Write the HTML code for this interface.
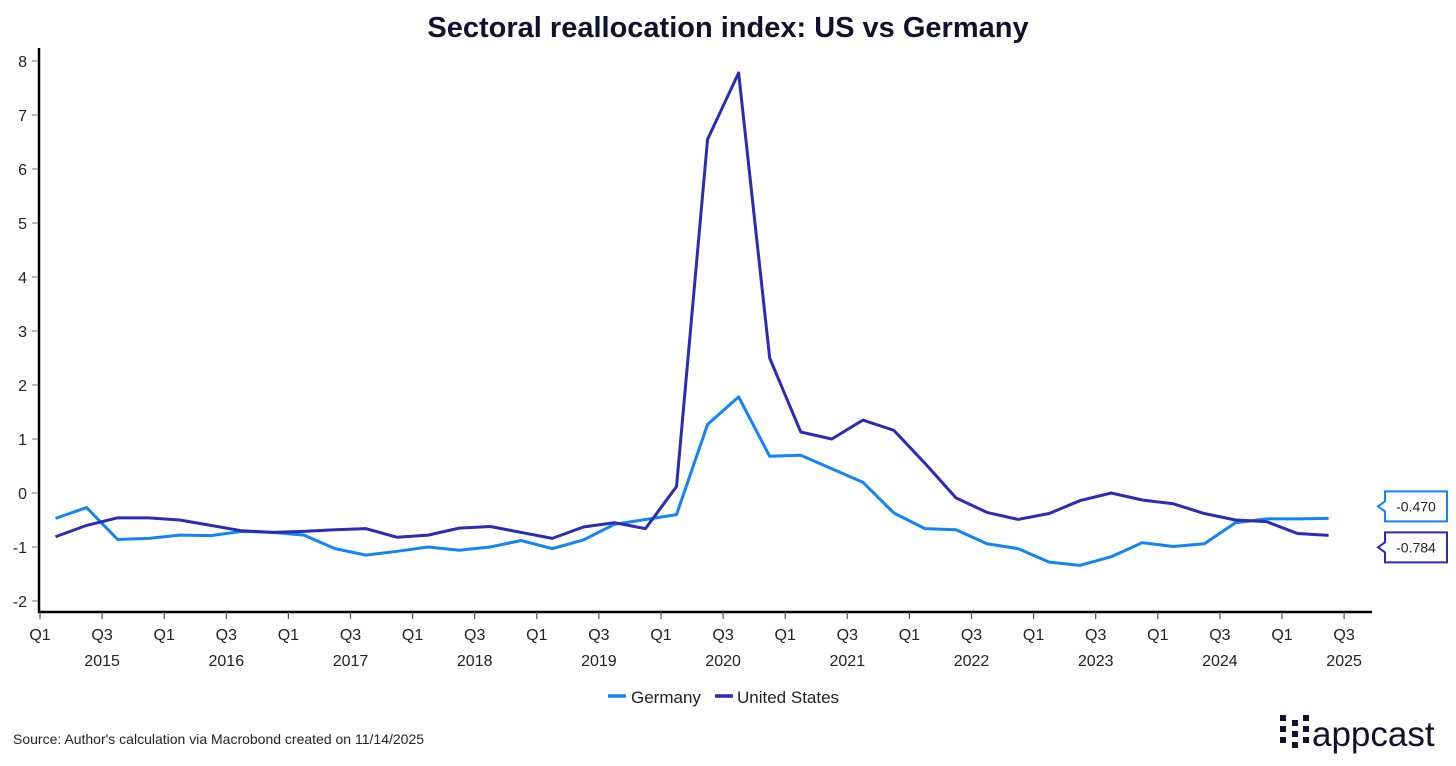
<!DOCTYPE html>
<html><head><meta charset="utf-8"><style>
body{margin:0;background:#fff;width:1456px;height:761px;overflow:hidden;font-family:"Liberation Sans",sans-serif;}
</style></head><body>
<svg width="1456" height="761" viewBox="0 0 1456 761" xmlns="http://www.w3.org/2000/svg">
<text x="728" y="37" text-anchor="middle" font-size="29" font-weight="bold" fill="#11112e">Sectoral reallocation index: US vs Germany</text>
<g id="axes"></g>
<g id="series"></g>
<g>
<line x1="608" y1="696" x2="626" y2="696" stroke="#1284f7" stroke-width="3.5"/>
<text x="631" y="703" font-size="17" fill="#222">Germany</text>
<line x1="715" y1="696" x2="733" y2="696" stroke="#2b2bb5" stroke-width="3.5"/>
<text x="737" y="703" font-size="17" fill="#222">United States</text>
</g>
<text x="13" y="744" font-size="14" fill="#222">Source: Author's calculation via Macrobond created on 11/14/2025</text>
<g fill="#11112e">
<rect x="1280" y="715" width="6" height="6"/><rect x="1280" y="726" width="6" height="6"/><rect x="1280" y="737" width="6" height="6"/>
<rect x="1292" y="720" width="6" height="6"/><rect x="1292" y="731" width="6" height="6"/><rect x="1292" y="742" width="6" height="6"/>
<rect x="1303" y="715" width="6" height="6"/><rect x="1303" y="726" width="6" height="6"/><rect x="1303" y="737" width="6" height="6"/>
<text x="1312" y="746" font-size="35" fill="#11112e">appcast</text>
</g>
</svg>
<script>
const yTicks=[8,7,6,5,4,3,2,1,0,-1,-2];
const years=["2015","2016","2017","2018","2019","2020","2021","2022","2023","2024","2025"];
const germany=[-0.47,-0.27,-0.86,-0.84,-0.78,-0.79,-0.71,-0.73,-0.78,-1.03,-1.15,-1.08,-1.0,-1.06,-1.0,-0.88,-1.03,-0.87,-0.58,-0.49,-0.40,1.27,1.78,0.68,0.70,0.45,0.20,-0.37,-0.66,-0.68,-0.94,-1.03,-1.28,-1.34,-1.18,-0.92,-0.99,-0.94,-0.55,-0.48,-0.48,-0.470];
const us=[-0.81,-0.60,-0.46,-0.46,-0.50,-0.60,-0.70,-0.73,-0.71,-0.68,-0.66,-0.82,-0.78,-0.65,-0.62,-0.73,-0.84,-0.63,-0.55,-0.66,0.12,6.55,7.78,2.50,1.13,1.00,1.35,1.16,0.55,-0.09,-0.36,-0.49,-0.38,-0.14,0.0,-0.13,-0.20,-0.38,-0.50,-0.53,-0.75,-0.784];
const NS="http://www.w3.org/2000/svg";
const X0=40,QW=31.05,Y0=493,YU=54;
const xq=q=>X0+QW*q;
const y=v=>Y0-v*YU;
const mk=(t,a,p)=>{const e=document.createElementNS(NS,t);for(const k in a)e.setAttribute(k,a[k]);p.appendChild(e);return e;};
const ax=document.getElementById('axes');
const ya=mk('line',{x1:39,y1:48,x2:39,y2:613,stroke:'#000','stroke-width':2.5},ax);


const xa=mk('line',{x1:38,y1:612,x2:1372,y2:612,stroke:'#000','stroke-width':2.5},ax);


yTicks.forEach(v=>{
 mk('line',{x1:32,y1:y(v),x2:38,y2:y(v),stroke:'#777','stroke-width':1},ax);
 const t=mk('text',{x:27,y:y(v)+6,'text-anchor':'end','font-size':16,fill:'#222'},ax);
 t.textContent=v;
 
 
});
for(let i=0;i<years.length;i++){
 [0,2].forEach(k=>{
  const q=i*4+k;const x=xq(q);
  mk('line',{x1:x,y1:612,x2:x,y2:619,stroke:'#555','stroke-width':1.2},ax);
  const t=mk('text',{x:x,y:640,'text-anchor':'middle','font-size':16,fill:'#222'},ax);
  t.textContent=k===0?'Q1':'Q3';
  
  
 });
 const t=mk('text',{x:xq(i*4+2),y:666,'text-anchor':'middle','font-size':16,fill:'#222'},ax);
 t.textContent=years[i];
 
 
}
const sg=document.getElementById('series');
function line(d,c,n){
 const p=mk('polyline',{points:d.map((v,i)=>xq(i+0.5)+','+y(v)).join(' '),fill:'none',stroke:c,'stroke-width':3,'stroke-linejoin':'round'},sg);
 
 
}
line(germany,'#1284f7','germany-line');
line(us,'#2b2bb5','us-line');
function tag(v,c,n,yc){
 const g=mk('g',{},sg);
 
 
 mk('path',{d:`M1385 ${yc-15} H1447 V${yc+15} H1385 V${yc+5} L1378 ${yc} L1385 ${yc-5} Z`,fill:'#fff',stroke:c,'stroke-width':2},g);
 const t=mk('text',{x:1416,y:yc+5,'text-anchor':'middle','font-size':14,fill:'#222'},g);
 t.textContent=v.toFixed(3);
}
tag(germany[germany.length-1],'#1284f7','germany-last-value',y(germany[germany.length-1])-12);
tag(us[us.length-1],'#2b2bb5','us-last-value',y(us[us.length-1])+12);
</script>
</body></html>
